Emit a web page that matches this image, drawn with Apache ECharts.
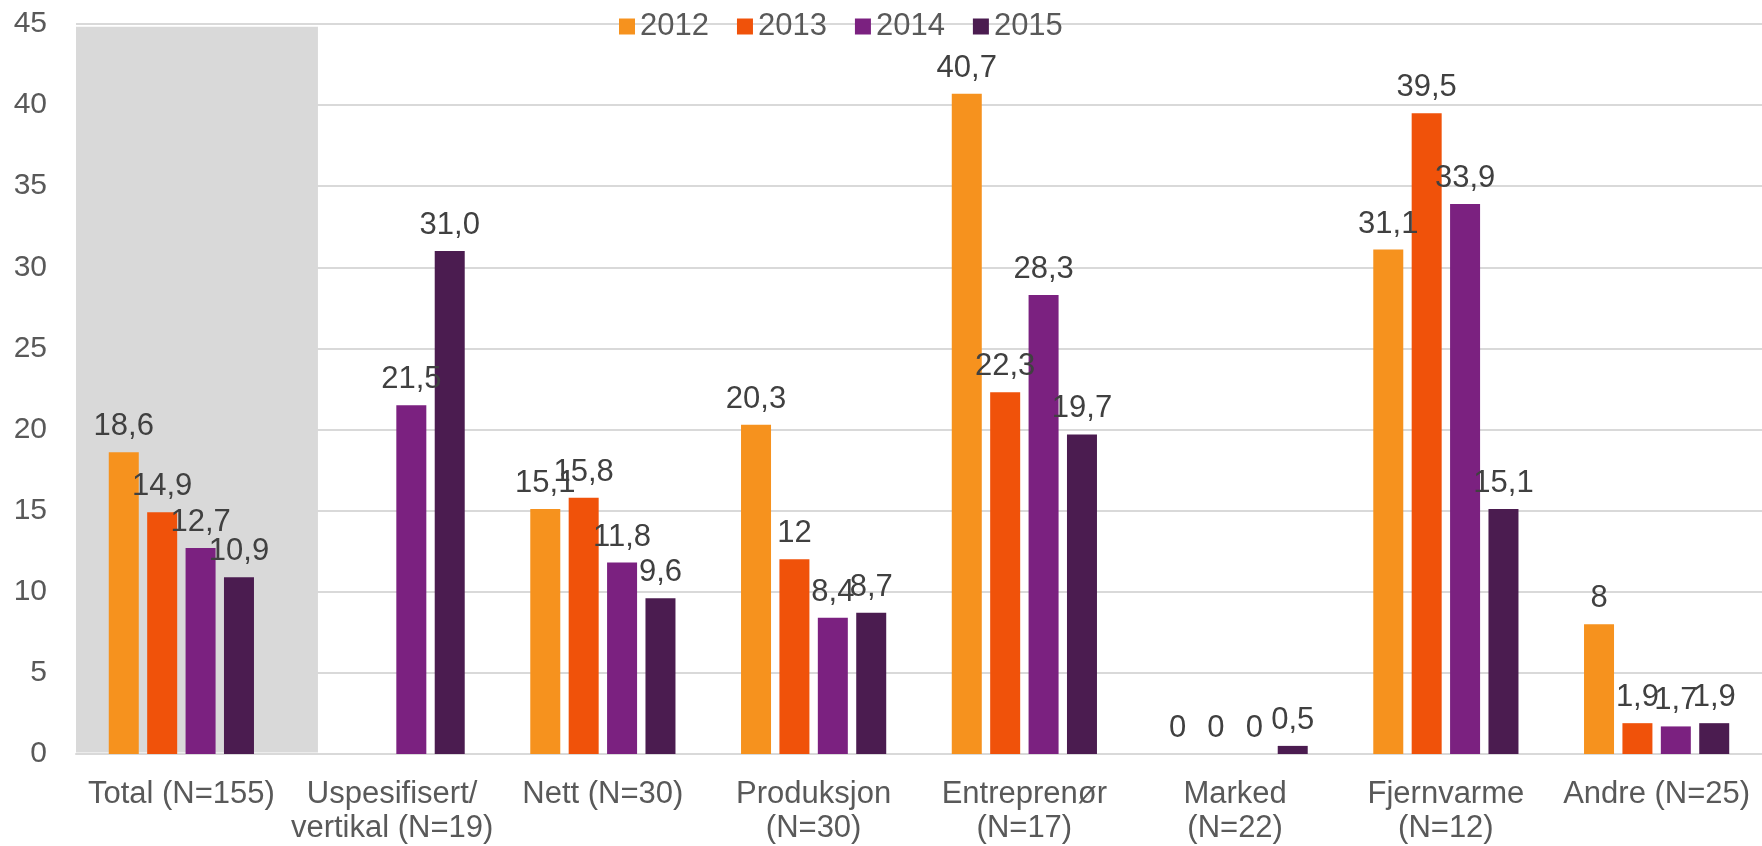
<!DOCTYPE html>
<html>
<head>
<meta charset="utf-8">
<script src="https://cdn.jsdelivr.net/npm/echarts@6/dist/echarts.min.js"></script>
<style>
  html, body { margin: 0; padding: 0; background: #fff; }
  #chart { width: 1762px; height: 846px; }
</style>
</head>
<body>
<div id="chart"></div>
<script>
// categories and values
const categories = [
  'Total (N=155)',
  'Uspesifisert/\nvertikal (N=19)',
  'Nett (N=30)',
  'Produksjon\n(N=30)',
  'Entreprenør\n(N=17)',
  'Marked\n(N=22)',
  'Fjernvarme\n(N=12)',
  'Andre (N=25)'
];
const years = ['2012', '2013', '2014', '2015'];
const values2012 = [18.6, '-', 15.1, 20.3, 40.7, 0, 31.1, 8];
const values2013 = [14.9, '-', 15.8, 12, 22.3, 0, 39.5, 1.9];
const values2014 = [12.7, 21.5, 11.8, 8.4, 28.3, 0, 33.9, 1.7];
const values2015 = [10.9, '31.0', 9.6, 8.7, 19.7, 0.5, 15.1, 1.9];
const yTicks = [0, 5, 10, 15, 20, 25, 30, 35, 40, 45];

const colors = ['#F6921E', '#F0520A', '#7B2180', '#4B1C50'];
const font = 'Liberation Sans, Arial, sans-serif';

const chart = echarts.init(document.getElementById('chart'));

function barSeries(name, data, color) {
  return {
    name: name,
    type: 'bar',
    data: data,
    barWidth: 30,
    barGap: '28%',
    z: 3,
    itemStyle: { color: color },
    label: {
      show: true,
      position: 'top',
      distance: 10,
      color: '#404040',
      fontSize: 31,
      fontFamily: font,
      formatter: (p) => String(p.value).replace('.', ',')
    },
    emphasis: { disabled: true }
  };
}

chart.setOption({
  backgroundColor: '#fff',
  animation: false,
  color: colors,
  legend: {
    data: years,
    left: 614,
    top: 6,
    icon: 'rect',
    itemWidth: 16,
    itemHeight: 16,
    itemGap: 28,
    textStyle: { color: '#595959', fontSize: 31, fontFamily: font }
  },
  grid: { left: 76, right: 0, top: 24, bottom: 92, containLabel: false },
  xAxis: [
    {
      type: 'category',
      data: categories,
      axisTick: { show: false },
      axisLine: { show: true, lineStyle: { color: '#d9d9d9', width: 2 } },
      axisLabel: {
        color: '#595959',
        fontSize: 31,
        fontFamily: font,
        lineHeight: 34,
        margin: 23,
        interval: 0
      }
    },
    { type: 'value', min: 0, max: 8, show: false }
  ],
  yAxis: {
    type: 'value',
    min: yTicks[0],
    max: yTicks[yTicks.length - 1],
    interval: 5,
    axisLine: { show: false },
    axisTick: { show: false },
    splitLine: { lineStyle: { color: '#d9d9d9', width: 2 } },
    axisLabel: { color: '#595959', fontSize: 30, fontFamily: font, margin: 29 }
  },
  series: [
    {
      // grey highlight behind the Total group
      type: 'line',
      xAxisIndex: 1,
      data: [],
      silent: true,
      z: 1,
      markArea: {
        silent: true,
        itemStyle: { color: '#d9d9d9' },
        data: [[{ coord: [0, 44.83] }, { coord: [1.148, 0.1] }]]
      }
    },
    barSeries(years[0], values2012, colors[0]),
    barSeries(years[1], values2013, colors[1]),
    barSeries(years[2], values2014, colors[2]),
    barSeries(years[3], values2015, colors[3])
  ]
});
</script>
</body>
</html>
